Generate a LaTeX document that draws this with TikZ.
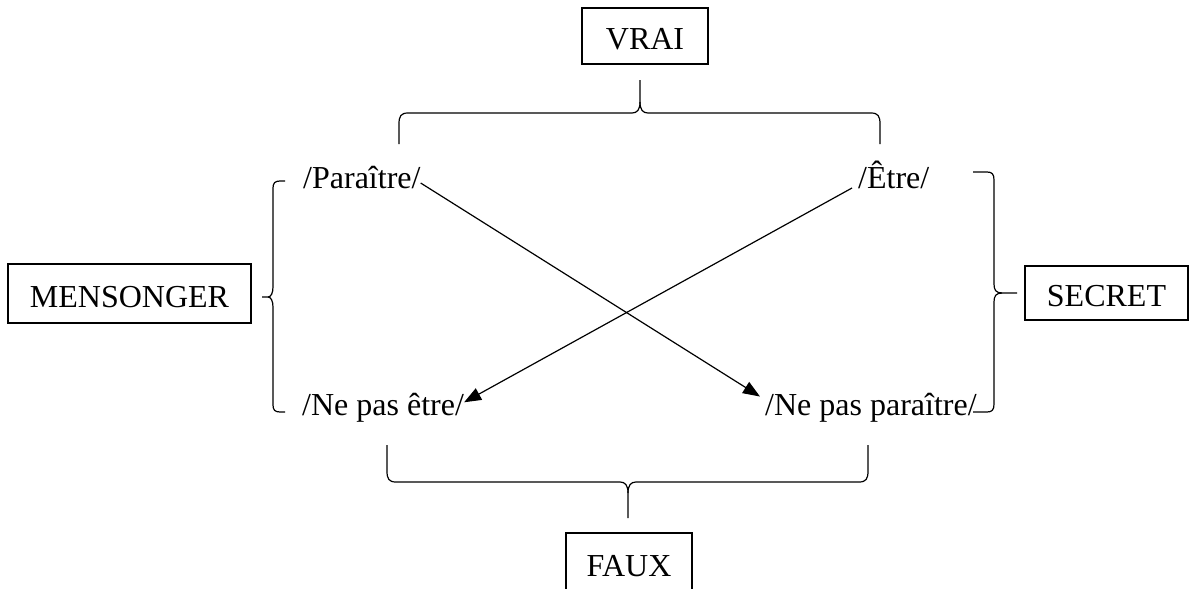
\documentclass[tikz,border=0pt]{standalone}
\usepackage{fontspec}
\setmainfont{Liberation Serif}
\usetikzlibrary{arrows.meta}
\begin{document}
\begin{tikzpicture}[x=1pt,y=-1pt,
  every node/.style={font=\fontsize{32}{38}\selectfont},
  boxnode/.style={draw,line width=1.4pt,inner sep=0pt,text height=27pt,text depth=0pt},
  word/.style={inner sep=0pt,anchor=base west},
  link/.style={line width=1.2pt},
  arrowlink/.style={link,-{Triangle[length=17pt,width=13pt]}},
  bracepath/.style={line width=1.2pt}]
\useasboundingbox (0,0) rectangle (1189,589);
\clip (0,0) rectangle (1189,589);
% boxes
\node[boxnode,minimum width=126pt,minimum height=56pt] (vrai) at (645,36) {VRAI};
\node[boxnode,minimum width=243pt,minimum height=59pt] (mens) at (129.5,293.5) {MENSONGER};
\node[boxnode,minimum width=163pt,minimum height=54pt] (secret) at (1106.5,293) {SECRET};
\node[boxnode,minimum width=126pt,minimum height=60pt] (faux) at (629,563) {FAUX};
% words
\node[word] (par) at (303,188) {/Paraître/};
\node[word] (etre) at (858,188) {/Être/};
\node[word] (npe) at (302,415) {/Ne pas être/};
\node[word] (npp) at (765,415) {/Ne pas paraître/};
% crossing arrows
\draw[arrowlink] ([yshift=-6pt]par.east) -- ([shift={(-5pt,-4pt)}]npp.north west);
\draw[arrowlink] ([xshift=-6pt]etre.base west) -- ([yshift=5pt]npe.east);
% top brace (VRAI)
\draw[bracepath] (399,144) -- (399,124) .. controls (399,116) and (401,113) .. (408,113) -- (632,113)
  .. controls (637,113) and (640,110) .. (640,102) -- (640,80);
\draw[bracepath] (640,102) .. controls (640,110) and (643,113) .. (648,113) -- (871,113)
  .. controls (878,113) and (880,116) .. (880,124) -- (880,144);
% bottom brace (FAUX)
\draw[bracepath] (387,445) -- (387,471) .. controls (387,479) and (389,482) .. (396,482) -- (620,482)
  .. controls (625,482) and (628,485) .. (628,493) -- (628,518);
\draw[bracepath] (628,493) .. controls (628,485) and (631,482) .. (636,482) -- (859,482)
  .. controls (866,482) and (868,479) .. (868,471) -- (868,445);
% left brace (MENSONGER)
\draw[bracepath] (285,181) -- (280,181) .. controls (275,181) and (273,183) .. (273,188) -- (273,287)
  .. controls (273,293) and (271,297) .. (268,297) -- (262,297);
\draw[bracepath] (268,297) .. controls (271,297) and (273,301) .. (273,307) -- (273,405)
  .. controls (273,410) and (275,412) .. (280,412) -- (285,412);
% right brace (SECRET)
\draw[bracepath] (973,172) -- (987,172) .. controls (992,172) and (994,174) .. (994,180) -- (994,284)
  .. controls (994,290) and (996,293) .. (1002,293) -- (1017,293);
\draw[bracepath] (1002,293) .. controls (996,293) and (994,296) .. (994,302) -- (994,404)
  .. controls (994,410) and (992,412) .. (987,412) -- (973,412);
\end{tikzpicture}
\end{document}
